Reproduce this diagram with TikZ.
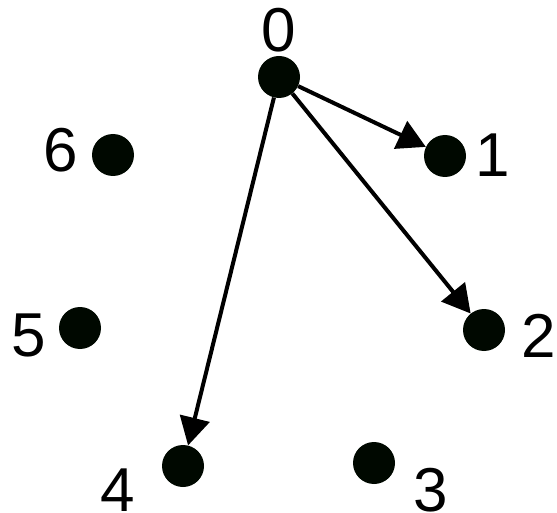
\documentclass[tikz,border=0pt]{standalone}
\usepackage{fontspec}
\setmainfont{Liberation Sans}
\usetikzlibrary{arrows.meta}
\begin{document}
\begin{tikzpicture}[x=1pt,y=-1pt,
  dot/.style={circle,fill=black!95!green!60!black,minimum size=42pt,inner sep=0pt},
  lbl/.style={font=\fontsize{62}{62}\selectfont,inner sep=0pt},
  edge/.style={line width=4pt,-{Triangle[length=28pt,width=30pt]}}]
\useasboundingbox (0,0) rectangle (557,513);
\node[dot] (n0) at (279,77) {};
\node[dot] (n1) at (445,156) {};
\node[dot] (n2) at (484,330) {};
\node[dot] (n3) at (374,463) {};
\node[dot] (n4) at (183,466) {};
\node[dot] (n5) at (80,328) {};
\node[dot] (n6) at (113,155) {};
\node[lbl] (l0) at (279,30) {0};
\node[lbl] (l1) at (493,155) {1};
\node[lbl] (l2) at (539,336) {2};
\node[lbl] (l3) at (431,490) {3};
\node[lbl] (l4) at (118,490) {4};
\node[lbl] (l5) at (29,335) {5};
\node[lbl] (l6) at (61,150) {6};
\draw[edge] (n0) -- (n1);
\draw[edge] (n0) -- (n2);
\draw[edge] (n0) -- (n4);
\end{tikzpicture}
\end{document}
